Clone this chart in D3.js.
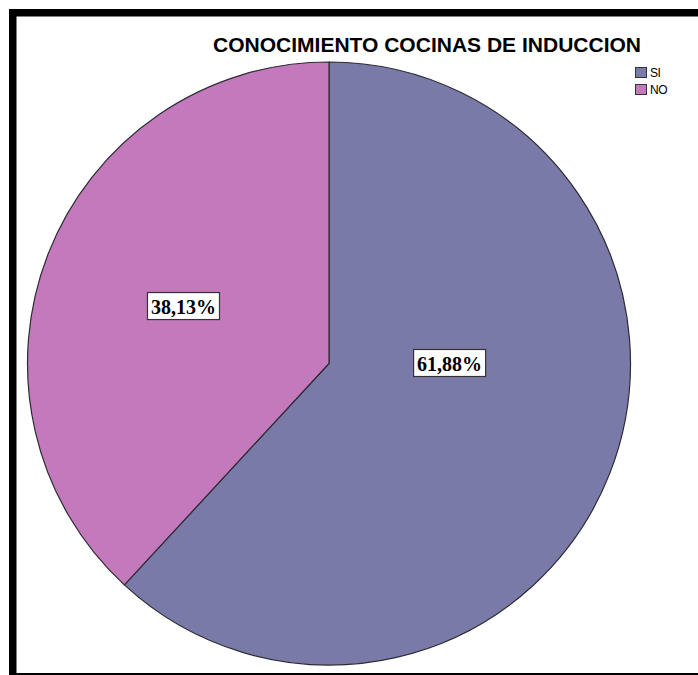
<!DOCTYPE html>
<html>
<head>
<meta charset="utf-8">
<script src="https://cdn.jsdelivr.net/npm/d3@7"></script>
<style>
  html, body { margin: 0; padding: 0; background: #fff; }
  svg { display: block; }
</style>
</head>
<body>
<svg id="chart" width="698" height="675"></svg>
<script>
// Knowledge of induction cookers: share of respondents
const categories = ["SI", "NO"];
const percentages = [61.88, 38.13];
const colors = ["#7a7aa8", "#c479bd"];
const chartTitle = "CONOCIMIENTO COCINAS DE INDUCCION";

const svg = d3.select("#chart");
const W = 698, H = 675;

svg.append("rect").attr("width", W).attr("height", H).attr("fill", "#fff");

// Heavy black frame around the plotting area (runs off the right edge)
svg.append("rect")
  .attr("x", 12.75).attr("y", 12.75)
  .attr("width", 800).attr("height", 664)
  .attr("fill", "none")
  .attr("stroke", "#000")
  .attr("stroke-width", 7.5);

// Title
svg.append("text")
  .attr("x", 427).attr("y", 52)
  .attr("text-anchor", "middle")
  .attr("font-family", "Liberation Sans, Arial, sans-serif")
  .attr("font-weight", "bold")
  .attr("font-size", 20)
  .attr("textLength", 428)
  .attr("lengthAdjust", "spacingAndGlyphs")
  .attr("fill", "#000")
  .text(chartTitle);

// Pie
const cx = 329, cy = 363.5, r = 301.5;
const data = categories.map((c, i) => ({ cat: c, value: percentages[i], color: colors[i] }));

const pie = d3.pie().sort(null).value(d => d.value);
const arcs = pie(data);
const arc = d3.arc().innerRadius(0).outerRadius(r);

const g = svg.append("g").attr("transform", `translate(${cx},${cy})`);

g.selectAll("path.slice")
  .data(arcs)
  .join("path")
  .attr("class", "slice")
  .attr("d", arc)
  .attr("fill", d => d.data.color)
  .attr("stroke", "#2b2b33")
  .attr("stroke-width", 1.2)
  .attr("stroke-linejoin", "round");

// Label anchor: geometric centroid of the sector for slices under half the
// pie; a larger slice gets its label on the horizontal through the centre.
function labelPos(d) {
  const a = d.endAngle - d.startAngle;
  if (a > Math.PI) {
    return [r * 0.4, 0];
  }
  const mid = (d.startAngle + d.endAngle) / 2;
  const dist = 4 * r * Math.sin(a / 2) / (3 * a);
  return [dist * Math.sin(mid), -dist * Math.cos(mid)];
}

const fmt = v => v.toFixed(2).replace(".", ",") + "%";

const labels = g.selectAll("g.lbl")
  .data(arcs)
  .join("g")
  .attr("class", "lbl")
  .attr("transform", d => { const p = labelPos(d); return `translate(${p[0]},${p[1]})`; });

labels.append("rect")
  .attr("x", -36).attr("y", -14)
  .attr("width", 72).attr("height", 27)
  .attr("fill", "#fff")
  .attr("stroke", "#333")
  .attr("stroke-width", 1.2);

labels.append("text")
  .attr("text-anchor", "middle")
  .attr("y", 7)
  .attr("font-family", "Liberation Serif, Times New Roman, serif")
  .attr("font-weight", "bold")
  .attr("font-size", 20)
  .attr("fill", "#000")
  .text(d => fmt(d.data.value));

// Legend
const legend = svg.append("g").attr("transform", "translate(635,67)");
const li = legend.selectAll("g")
  .data(data)
  .join("g")
  .attr("transform", (d, i) => `translate(0,${i * 17})`);
li.append("rect")
  .attr("x", 0.5).attr("y", 0.5)
  .attr("width", 11).attr("height", 10)
  .attr("fill", d => d.color)
  .attr("stroke", "#333")
  .attr("stroke-width", 1);
li.append("text")
  .attr("x", 15).attr("y", 10)
  .attr("font-family", "Liberation Sans, Arial, sans-serif")
  .attr("font-size", 12)
  .attr("letter-spacing", -0.5)
  .attr("fill", "#000")
  .text(d => d.cat);
</script>
</body>
</html>
